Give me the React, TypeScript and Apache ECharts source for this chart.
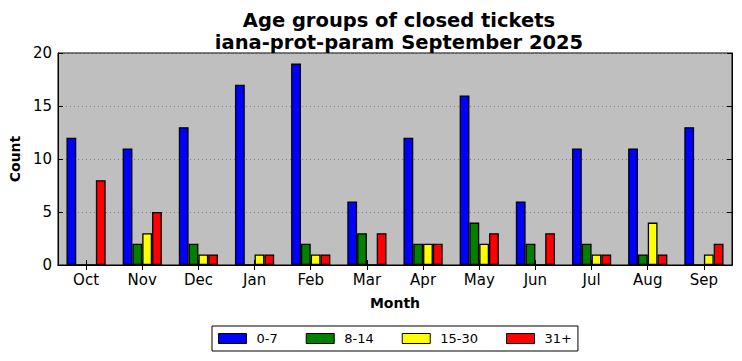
import React, { useEffect, useRef } from "react";
import * as echarts from "echarts";

const months = ["Oct", "Nov", "Dec", "Jan", "Feb", "Mar", "Apr", "May", "Jun", "Jul", "Aug", "Sep"];
const seriesNames = ["0-7", "8-14", "15-30", "31+"];
const age0to7 = [12, 11, 13, 17, 19, 6, 12, 16, 6, 11, 11, 13];
const age8to14 = [0, 2, 2, 0, 2, 3, 2, 4, 2, 2, 1, 0];
const age15to30 = [0, 3, 1, 1, 1, 0, 2, 2, 0, 1, 4, 1];
const age31plus = [8, 5, 1, 1, 1, 3, 2, 3, 3, 1, 1, 2];
const yTicks = [0, 5, 10, 15, 20];
const colors = ["#0000ff", "#008000", "#ffff00", "#ff0000"];

const FONT = "DejaVu Sans";

export default function App() {
  const ref = useRef<HTMLDivElement>(null);
  useEffect(() => {
    if (!ref.current) return;
    const chart = echarts.init(ref.current, null, { renderer: "svg" });
    const values = [age0to7, age8to14, age15to30, age31plus];
    chart.setOption({
      animation: false,
      textStyle: { fontFamily: FONT },
      title: {
        text: "Age groups of closed tickets\niana-prot-param September 2025",
        left: 394,
        textAlign: "center",
        top: 4,
        textStyle: { fontFamily: FONT, fontSize: 19.5, fontWeight: "bold", color: "#000", lineHeight: 22 },
      },
      legend: {
        data: seriesNames,
        left: 212,
        top: 326,
        orient: "horizontal",
        itemWidth: 28,
        itemHeight: 10,
        itemGap: 28,
        padding: [6, 6],
        borderColor: "#000",
        borderWidth: 1,
        borderRadius: 0,
        backgroundColor: "#fff",
        icon: "rect",
        textStyle: { fontFamily: FONT, fontSize: 13, color: "#000", padding: [0, 0, 0, 5] },
        itemStyle: { borderColor: "#000", borderWidth: 1 },
      },
      grid: {
        left: 56,
        right: 10,
        top: 53,
        bottom: 96,
        show: true,
        backgroundColor: "#bfbfbf",
        borderColor: "#000",
        borderWidth: 1,
      },
      xAxis: [
        {
          type: "category",
          data: months,
          position: "bottom",
          name: "Month",
          nameLocation: "middle",
          nameGap: 31,
          nameTextStyle: { fontFamily: FONT, fontSize: 14, fontWeight: "bold", color: "#000" },
          axisLine: { show: true, lineStyle: { color: "#000" } },
          axisTick: { show: true, inside: true, alignWithLabel: true, length: 5, lineStyle: { color: "#000" } },
          axisLabel: { fontFamily: FONT, fontSize: 15, color: "#000", margin: 7 },
          splitLine: { show: false },
        },
        {
          type: "category",
          data: months,
          position: "top",
          axisLine: { show: true, lineStyle: { color: "#000" } },
          axisTick: { show: true, inside: true, alignWithLabel: true, length: 5, lineStyle: { color: "#000" } },
          axisLabel: { show: false },
          splitLine: { show: false },
        },
      ],
      yAxis: [
        {
          type: "value",
          min: yTicks[0],
          max: yTicks[yTicks.length - 1],
          interval: 5,
          position: "left",
          name: "Count",
          nameLocation: "middle",
          nameGap: 34,
          nameRotate: 90,
          nameTextStyle: { fontFamily: FONT, fontSize: 14, fontWeight: "bold", color: "#000" },
          axisLine: { show: true, lineStyle: { color: "#000" } },
          axisTick: { show: true, inside: true, length: 5, lineStyle: { color: "#000" } },
          axisLabel: { fontFamily: FONT, fontSize: 15, color: "#000", margin: 6 },
          splitLine: { show: true, lineStyle: { color: "#808080", type: [1, 3], width: 1 } },
        },
        {
          type: "value",
          min: yTicks[0],
          max: yTicks[yTicks.length - 1],
          interval: 5,
          position: "right",
          axisLine: { show: true, lineStyle: { color: "#000" } },
          axisTick: { show: true, inside: true, length: 5, lineStyle: { color: "#000" } },
          axisLabel: { show: false },
          splitLine: { show: false },
        },
      ],
      series: seriesNames.map((name, i) => ({
        name,
        type: "bar",
        xAxisIndex: 0,
        yAxisIndex: 0,
        data: values[i],
        barWidth: 9.8,
        barGap: "0%",
        itemStyle: { color: colors[i], borderColor: "#000", borderWidth: 1.3 },
      })),
    });
    return () => chart.dispose();
  }, []);
  return <div ref={ref} style={{ position: "absolute", left: 0, top: 0, width: 742, height: 361 }} />;
}
